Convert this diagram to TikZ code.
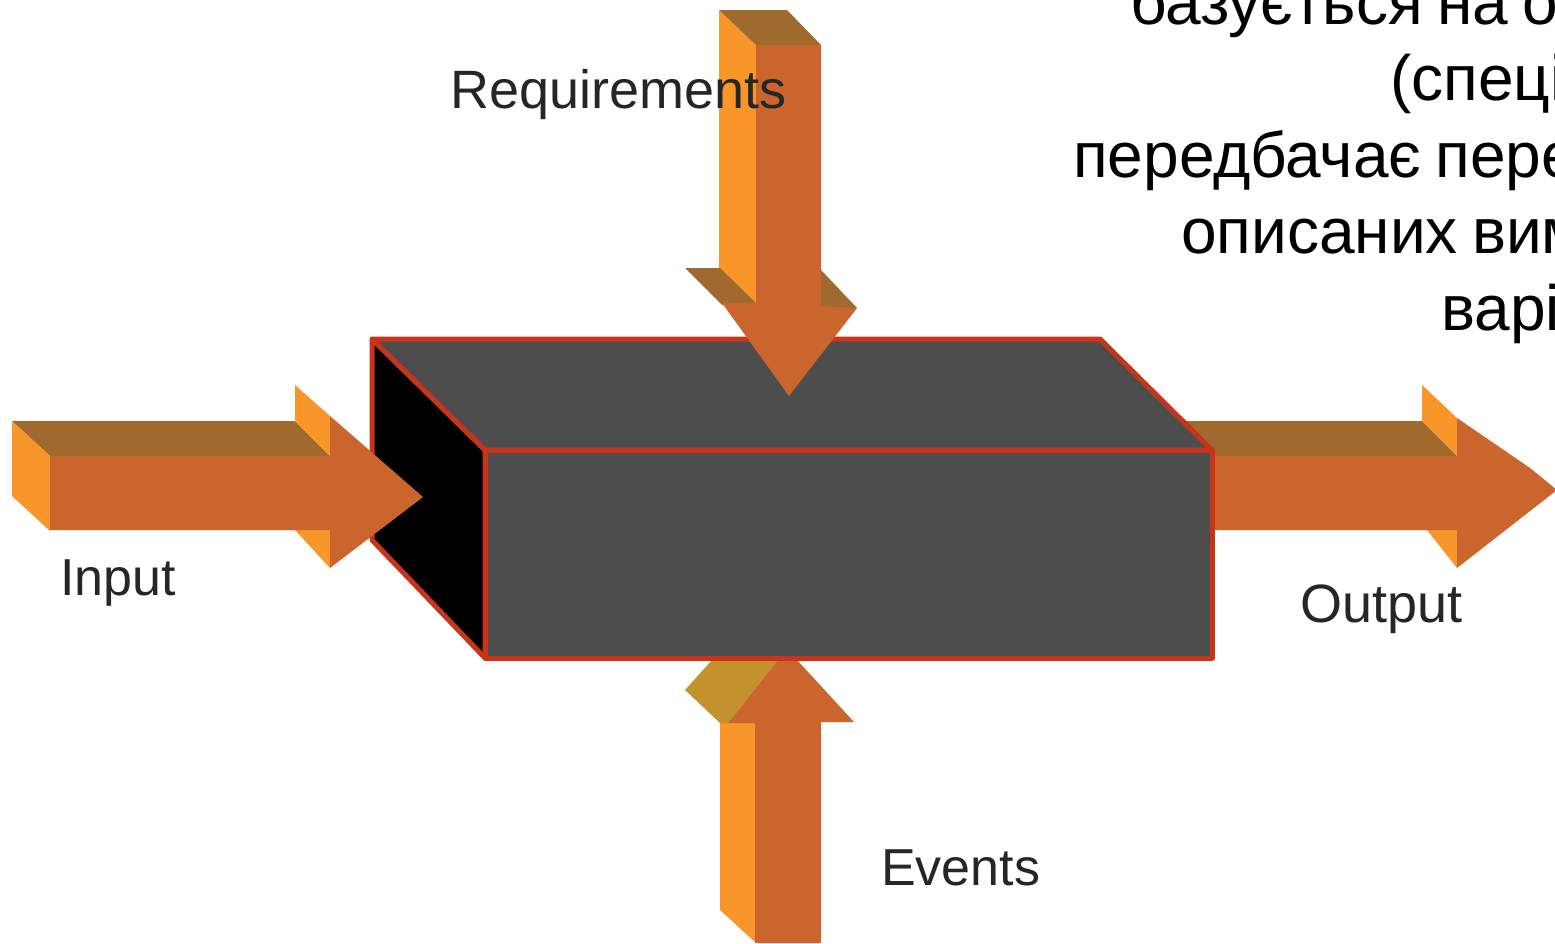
\documentclass[tikz,border=0pt]{standalone}
\usepackage{fontspec}
\setmainfont[WordSpace=0.8]{Liberation Sans}
\definecolor{arrowfront}{HTML}{C9652D}
\definecolor{arrowside}{HTML}{F8962A}
\definecolor{arrowtop}{HTML}{A0692E}
\definecolor{arrowgold}{HTML}{C4922C}
\definecolor{boxgrey}{HTML}{4D4D4D}
\definecolor{boxred}{HTML}{C8341A}
\tikzset{
  front/.style={fill=arrowfront},
  sidef/.style={fill=arrowside},
  topf/.style={fill=arrowtop},
  goldf/.style={fill=arrowgold},
  greyf/.style={fill=boxgrey},
  blackf/.style={fill=black},
  edge/.style={draw=boxred,line width=5pt,line join=round},
  lbl/.style={anchor=base west,inner sep=0pt,text=black!85,font=\fontsize{52}{52}\selectfont},
  lblwide/.style={anchor=base west,inner sep=0pt,text=black!85,font=\fontsize{54}{54}\selectfont},
  bodytext/.style={anchor=base west,inner sep=0pt,text=black,font=\fontsize{64}{64}\selectfont}
}
\begin{document}
\begin{tikzpicture}[x=1pt,y=-1pt]
\useasboundingbox (0,0) rectangle (1555,943);
\fill[white] (0,0) rectangle (1555,943);
\clip (0,0) rectangle (1555,943);
% output arrow behind box
\fill[topf] (1180,421) -- (1422,421) -- (1457,456) -- (1200,456) -- cycle;
\fill[sidef] (1422,385) -- (1457,418) -- (1457,456) -- (1422,421) -- cycle;
\fill[sidef] (1427,530) -- (1457,530) -- (1457,568) -- cycle;
\fill[front] (1200,456) -- (1457,456) -- (1457,418) -- (1530,468) -- (1557,490) -- (1457,568) -- (1457,530) -- (1200,530) -- cycle;
% events arrow
\fill[sidef] (720,723) -- (756,723) -- (756,943) -- (720,910) -- cycle;
\fill[goldf] (685,690) -- (712,660) -- (778,660) -- (728,723) -- (720,723) -- cycle;
\fill[front] (728,723) -- (778,660) -- (797,660) -- (854,722) -- (821,722) -- (821,943) -- (755,943) -- (755,723) -- cycle;
% box
\draw[edge,blackf] (372,339) -- (485,450) -- (485,658) -- (372,540) -- cycle;
\draw[edge,greyf] (372,339) -- (1100,339) -- (1212,450) -- (485,450) -- cycle;
\draw[edge,greyf] (485,450) -- (1212,450) -- (1212,658) -- (485,658) -- cycle;
% input arrow
\fill[topf] (12,421) -- (295,421) -- (330,456) -- (50,456) -- cycle;
\fill[sidef] (12,421) -- (50,456) -- (50,531) -- (12,496) -- cycle;
\fill[sidef] (295,385) -- (330,416) -- (330,456) -- (295,421) -- cycle;
\fill[sidef] (295,530) -- (330,530) -- (330,568) -- cycle;
\fill[front] (50,456) -- (330,456) -- (330,416) -- (423,497) -- (330,568) -- (330,530) -- (50,530) -- cycle;
% requirements arrow
\fill[sidef] (719,10) -- (756,45) -- (756,305) -- (719,268) -- cycle;
\fill[topf] (719,10) -- (787,10) -- (821,45) -- (756,45) -- cycle;
\fill[topf] (685,268) -- (720,268) -- (756,303) -- (722,305) -- cycle;
\fill[topf] (821,270) -- (857,308) -- (821,308) -- cycle;
\fill[front] (756,45) -- (821,45) -- (821,306) -- (857,308) -- (789,396) -- (722,303) -- (756,303) -- cycle;
% labels
\node[lblwide] (requirements) at (450,108) {Requirements};
\node[lbl] (input) at (60,595) {Input};
\node[lblwide] (output) at (1300,622) {Output};
\node[lbl] (events) at (881,885) {Events};
% clipped slide text
\node[bodytext] (t1) at (1130,24) {базується на о};
\node[bodytext] (t2) at (1390,100) {(спеці};
\node[bodytext] (t3) at (1073,177) {передбачає пере};
\node[bodytext] (t4) at (1181,253) {описаних вим};
\node[bodytext] (t5) at (1441,330) {варі};
\end{tikzpicture}
\end{document}
